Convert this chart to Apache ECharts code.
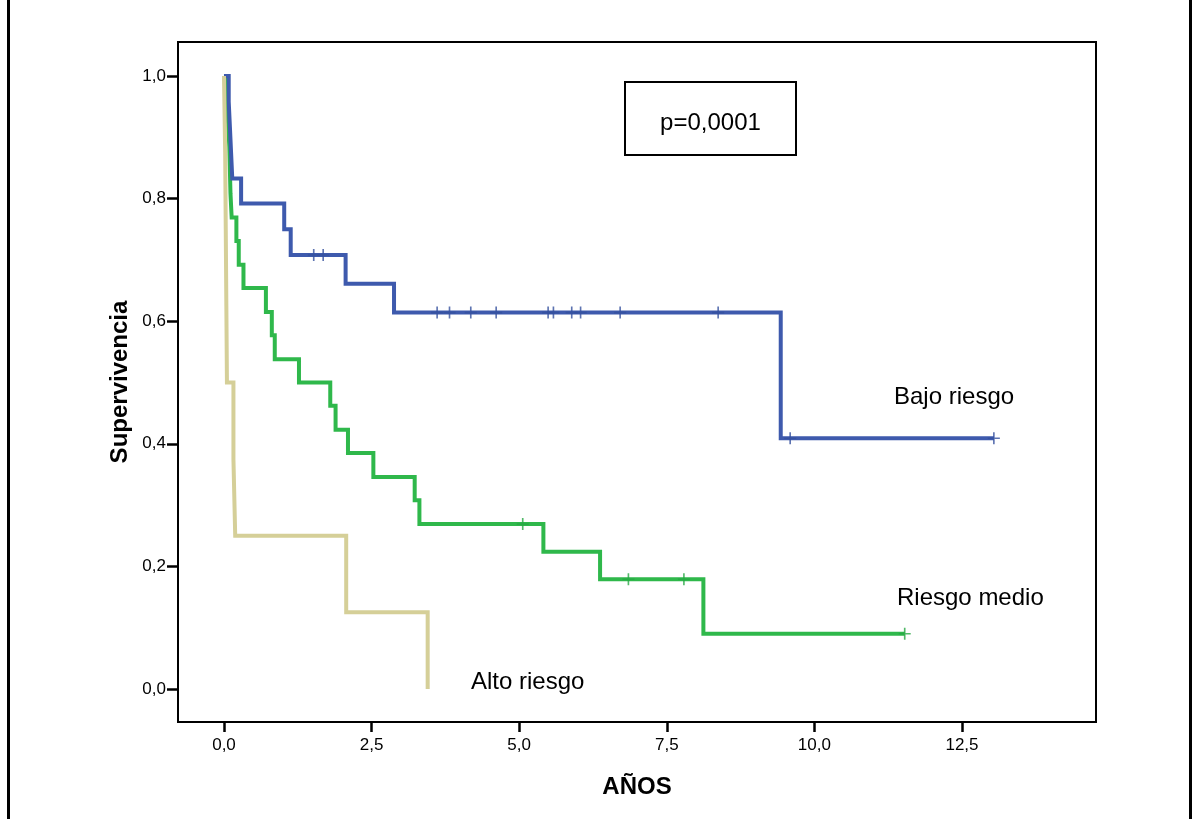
<!DOCTYPE html>
<html>
<head>
<meta charset="utf-8">
<style>
  html, body { margin: 0; padding: 0; background: #fff; }
  #chart { width: 1192px; height: 819px; }
</style>
<script src="https://cdn.jsdelivr.net/npm/echarts@6/dist/echarts.min.js"></script>
</head>
<body>
<div id="chart"></div>
<script>
// Axis ticks
const xTicks = [0, 2.5, 5, 7.5, 10, 12.5];
const yTicks = [0, 0.2, 0.4, 0.6, 0.8, 1.0];

// Kaplan-Meier steps: time (years) and survival after each event
const bajoTimes = [0, 0.08, 0.10, 0.12, 0.14, 0.29, 1.02, 1.13, 2.06, 2.88, 9.43, 13.04];
const bajoSurv  = [1, 0.958, 0.917, 0.875, 0.833, 0.792, 0.750, 0.708, 0.661, 0.614, 0.409, 0.409];
const bajoCensTimes = [1.52, 1.68, 3.61, 3.82, 4.18, 4.61, 5.49, 5.58, 5.89, 6.04, 6.71, 8.37, 9.59, 13.04];
const bajoCensSurv  = [0.708, 0.708, 0.614, 0.614, 0.614, 0.614, 0.614, 0.614, 0.614, 0.614, 0.614, 0.614, 0.409, 0.409];

const medioTimes = [0, 0.05, 0.07, 0.09, 0.10, 0.11, 0.13, 0.21, 0.25, 0.33, 0.71, 0.81, 0.86, 1.27, 1.80, 1.89, 2.10, 2.53, 3.23, 3.31, 5.41, 6.37, 8.12, 11.53];
const medioSurv  = [1, 0.962, 0.923, 0.885, 0.846, 0.808, 0.769, 0.731, 0.692, 0.654, 0.615, 0.577, 0.538, 0.500, 0.462, 0.423, 0.385, 0.346, 0.308, 0.269, 0.224, 0.179, 0.090, 0.090];
const medioCensTimes = [5.06, 6.85, 7.79, 11.53];
const medioCensSurv  = [0.269, 0.179, 0.179, 0.090];

const altoTimes = [0, 0.02, 0.03, 0.04, 0.05, 0.16, 0.19, 2.07, 3.45];
const altoSurv  = [1, 0.875, 0.75, 0.625, 0.5, 0.375, 0.25, 0.125, 0];

const groupNames = ['Bajo riesgo', 'Riesgo medio', 'Alto riesgo'];
const pValueText = 'p=0,0001';
const xTitle = 'AÑOS';
const yTitle = 'Supervivencia';

const COLORS = { bajo: '#3e5aad', medio: '#2fb84b', alto: '#d5cf98' };
const FONT = '"Liberation Sans", Arial, sans-serif';

const zip = (a, b) => a.map((v, i) => [v, b[i]]);
const comma = (v, d) => v.toFixed(d).replace('.', ',');

// "+" marker for censored observations
const PLUS = 'path://M4.75,0 h1.5 v4.75 h4.75 v1.5 h-4.75 v4.75 h-1.5 v-4.75 h-4.75 v-1.5 h4.75 z';

function stepLine(name, times, surv, color) {
  return {
    name, type: 'line', step: 'end', data: zip(times, surv),
    showSymbol: false, symbol: 'none',
    lineStyle: { color, width: 4, cap: 'butt', join: 'miter' },
    z: 3, silent: true
  };
}
function censors(name, times, surv, color) {
  return {
    name: name + ' (censurado)', type: 'scatter', data: zip(times, surv),
    symbol: PLUS, symbolSize: [12, 12], symbolKeepAspect: false,
    itemStyle: { color }, z: 4, silent: true
  };
}

const chart = echarts.init(document.getElementById('chart'), null, { renderer: 'canvas' });

chart.setOption({
  animation: false,
  backgroundColor: '#ffffff',
  grid: {
    left: 178, top: 42, width: 918, height: 680,
    show: true, borderColor: '#000', borderWidth: 2, backgroundColor: 'transparent'
  },
  xAxis: {
    type: 'value', min: -0.779, max: 14.77,
    axisLine: { show: true, onZero: false, lineStyle: { color: '#000', width: 2 } },
    axisTick: { show: true, length: 10, inside: false, customValues: xTicks,
                lineStyle: { color: '#000', width: 2.5 } },
    axisLabel: { customValues: xTicks, margin: 15, color: '#000', fontSize: 17,
                 fontFamily: FONT, formatter: v => comma(v, 1) },
    splitLine: { show: false }
  },
  yAxis: {
    type: 'value', min: -0.0539, max: 1.0555,
    axisLine: { show: true, onZero: false, lineStyle: { color: '#000', width: 2 } },
    axisTick: { show: true, length: 11, inside: false, customValues: yTicks,
                lineStyle: { color: '#000', width: 2.5 } },
    axisLabel: { customValues: yTicks, margin: 12, color: '#000', fontSize: 17,
                 fontFamily: FONT, formatter: v => comma(v, 1) },
    splitLine: { show: false }
  },
  series: [
    stepLine(groupNames[1], medioTimes, medioSurv, COLORS.medio),
    stepLine(groupNames[0], bajoTimes, bajoSurv, COLORS.bajo),
    stepLine(groupNames[2], altoTimes, altoSurv, COLORS.alto),
    censors(groupNames[1], medioCensTimes, medioCensSurv, '#27a843'),
    censors(groupNames[0], bajoCensTimes, bajoCensSurv, '#34509e')
  ],
  graphic: [
    // frame edges
    { type: 'rect', shape: { x: 7, y: 0, width: 3, height: 819 }, style: { fill: '#000' } },
    { type: 'rect', shape: { x: 1189, y: 0, width: 3, height: 819 }, style: { fill: '#000' } },
    // p-value box
    { type: 'rect', shape: { x: 625, y: 82, width: 171, height: 73 },
      style: { fill: '#fff', stroke: '#000', lineWidth: 2 }, z: 10 },
    { type: 'text', x: 710.5, y: 123, z: 11,
      style: { text: pValueText, font: '24px ' + FONT, fill: '#000', align: 'center', verticalAlign: 'middle' } },
    // group labels
    { type: 'text', x: 894, y: 397, z: 11,
      style: { text: groupNames[0], font: '24px ' + FONT, fill: '#000', align: 'left', verticalAlign: 'middle' } },
    { type: 'text', x: 897, y: 598, z: 11,
      style: { text: groupNames[1], font: '24px ' + FONT, fill: '#000', align: 'left', verticalAlign: 'middle' } },
    { type: 'text', x: 471, y: 682, z: 11,
      style: { text: groupNames[2], font: '24px ' + FONT, fill: '#000', align: 'left', verticalAlign: 'middle' } },
    // axis titles
    { type: 'text', x: 637, y: 787, z: 11,
      style: { text: xTitle, font: 'bold 24px ' + FONT, fill: '#000', align: 'center', verticalAlign: 'middle' } },
    { type: 'text', x: 120, y: 382, rotation: Math.PI / 2, z: 11,
      style: { text: yTitle, font: 'bold 24px ' + FONT, fill: '#000', align: 'center', verticalAlign: 'middle' } }
  ]
});
</script>
</body>
</html>
